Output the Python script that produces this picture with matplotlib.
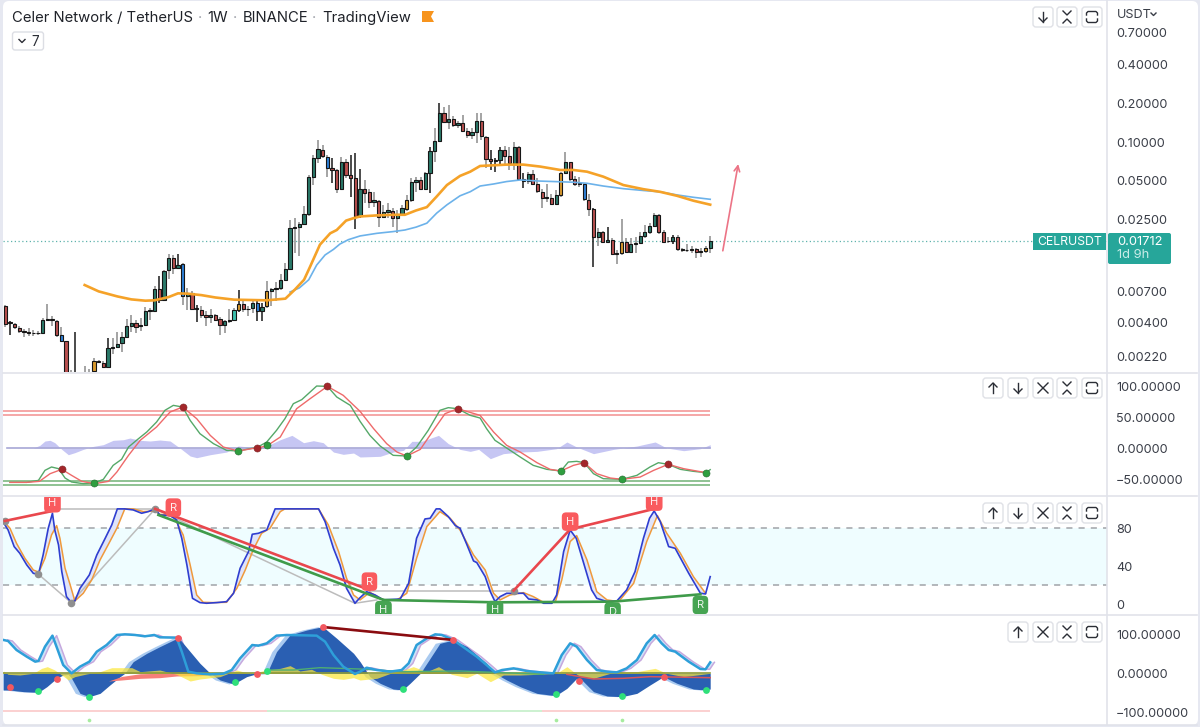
import numpy as np
import matplotlib
matplotlib.use('Agg')
import matplotlib.pyplot as plt
from matplotlib.patches import FancyBboxPatch, Rectangle, Polygon

plt.rcParams['font.family'] = ['Inter', 'DejaVu Sans']

W, H = 1200, 727

## weekly candles, one row per bar
opens = [.00544,.00405,.00393,.00368,.00345,.00341,.00337,.00333,.00337,.00419,.00429,.00415,.00321,.0029,.00125,.0013,.0015,.00145,.0016,.0017,
    .00202,.00195,.00182,.00257,.0026,.0028,.00312,.00381,.00402,.00376,.00386,.00494,.00494,.00726,.00605,.0102,.0126,.0106,.0115,.0065,
    .00681,.00515,.00506,.00463,.00448,.00458,.00428,.00388,.00412,.0042,.00506,.00561,.00512,.00518,.0057,.00491,.00537,.00712,.00725,.0074,
    .00857,.0104,.0218,.0221,.0233,.0279,.054,.0754,.0868,.0765,.0627,.0603,.0432,.0697,.0553,.0525,.0266,.0435,.0412,.0347,
    .0351,.0262,.029,.0295,.0258,.0279,.0303,.0357,.0493,.0509,.0435,.058,.0855,.102,.1683,.144,.1517,.1345,.1393,.1216,
    .1132,.1203,.1452,.11,.0735,.0712,.0727,.0863,.0784,.068,.0921,.0521,.0497,.0565,.0474,.0413,.0372,.0368,.0333,.0388,
    .0576,.0702,.0515,.0474,.0474,.0357,.0303,.0186,.0203,.0168,.0176,.0136,.014,.0168,.0141,.0163,.0167,.0189,.0201,.0225,
    .0274,.0201,.0172,.0172,.0184,.0148,.0146,.0147,.0149,.0142,.0145,.0151]
closes = [.00395,.004,.00372,.00347,.00341,.00337,.00333,.00337,.00419,.00429,.00424,.00323,.0029,.00125,.0013,.0015,.00145,.0016,.00163,.00203,
    .00199,.00182,.00257,.00262,.00273,.00311,.00381,.00402,.00372,.00386,.00494,.005,.00736,.00601,.01,.0126,.0107,.0113,.00645,.00681,
    .00512,.00522,.00463,.00448,.00458,.00424,.00388,.00412,.0042,.005,.00561,.00512,.00515,.0057,.00491,.0053,.00712,.00725,.0074,.00857,
    .0104,.0215,.0221,.0231,.0279,.0534,.0749,.0878,.0783,.0634,.0603,.0432,.0697,.0553,.0525,.0266,.0437,.0407,.0347,.0357,
    .0262,.0287,.0299,.0258,.0279,.0308,.0357,.049,.0509,.0435,.058,.0855,.102,.1683,.144,.1517,.1345,.1393,.1216,.1132,
    .1203,.1452,.1113,.0735,.0712,.0727,.0868,.0784,.0685,.0921,.0521,.0497,.0565,.0474,.0416,.0372,.0376,.0333,.0388,.0576,
    .0702,.0515,.0474,.048,.0361,.0303,.0186,.0203,.0168,.0175,.0136,.0138,.0168,.0142,.0162,.0167,.0189,.0203,.0225,.0274,
    .0201,.017,.0173,.0185,.0149,.0146,.0147,.0148,.0142,.0145,.0151,.01712]
highs = [.00553,.00412,.004,.00377,.00359,.00368,.00351,.00347,.00437,.00561,.0045,.00424,.00372,.00292,.00172,.00343,.0016,.00185,.00177,.00215,
    .00207,.00203,.00306,.00306,.00339,.00339,.0043,.00463,.00424,.00437,.00527,.00521,.00766,.00915,.0103,.0136,.0133,.0137,.0116,.00745,
    .00701,.00553,.00544,.00491,.00512,.00471,.00445,.00424,.00512,.00521,.00722,.00598,.00544,.00598,.00598,.0057,.00837,.00745,.00822,.0096,
    .0116,.025,.0258,.0243,.0321,.0557,.0794,.1036,.095,.0794,.0749,.0615,.0771,.0735,.0794,.0818,.0615,.0509,.0437,.0413,
    .0357,.0326,.0337,.0308,.0299,.0326,.0392,.0525,.0533,.0533,.059,.0921,.1276,.1988,.1873,.193,.1585,.1455,.1618,.1275,
    .1275,.1685,.1664,.1113,.0868,.0749,.0921,.0932,.0921,.1005,.0932,.0573,.059,.0608,.0525,.0437,.0474,.0397,.0427,.059,
    .0843,.0706,.0546,.0533,.048,.0397,.0308,.0215,.0207,.022,.018,.0147,.0253,.018,.018,.0186,.0203,.0229,.0236,.0282,
    .0279,.0209,.0184,.0192,.0192,.0153,.0164,.0158,.0151,.0151,.0158,.0188]
lows = [.00372,.0032,.00359,.00335,.00309,.00316,.00316,.00323,.00335,.00412,.00381,.00312,.00287,.00115,.00105,.001,.0012,.00135,.0014,.0015,
    .00195,.0018,.0018,.00232,.00257,.00238,.00306,.00339,.00335,.00345,.00381,.00424,.00491,.0057,.00598,.00873,.0096,.0104,.00553,.00506,
    .005,.00405,.00437,.00377,.004,.00412,.00325,.00335,.004,.00412,.00482,.00482,.00455,.00477,.00412,.00412,.00521,.00537,.00588,.00722,
    .00837,.0103,.0138,.0132,.0229,.0266,.0465,.0685,.0749,.0533,.0486,.0402,.0427,.0525,.0379,.0212,.0258,.0337,.0308,.0317,
    .022,.0258,.0258,.0222,.0199,.0266,.0291,.0347,.0413,.0427,.0427,.0402,.0706,.1005,.1393,.125,.1297,.1275,.1203,.1068,
    .1048,.0976,.1036,.0627,.0608,.059,.0653,.0665,.0608,.0608,.0509,.0445,.0474,.0465,.0402,.0308,.0347,.0326,.0326,.0379,
    .0573,.0497,.0458,.0453,.0352,.0269,.0109,.0156,.0167,.0167,.0134,.0115,.0134,.0138,.0138,.0138,.0165,.018,.0195,.022,
    .0195,.0167,.0165,.0164,.0145,.0141,.0141,.014,.0128,.013,.014,.014]
blue_bars = [12, 38, 54, 69, 124]
orange_bars = [19, 50, 56, 86, 119, 132, 150]
aqua_bars = [49]
dark_wicks = [1, 15, 22, 33, 37, 41, 50, 54, 55, 70, 74, 75, 76, 91, 93, 104, 105, 106, 111, 126, 129, 143]

last_price = 0.01712
price_ticks = [0.7, 0.4, 0.2, 0.1, 0.05, 0.025, 0.007, 0.004, 0.0022]

ma_orange_x = [17,20,24,27,30,32,35,37,39,42,45,49,53,56,60,62,64,65.3,67.4,69.6,71,73,74.6,76,79.6,83,85.6,88,90.3,92.4,94.6,97.4,99.6,101.7,104.6,107.4,111,114.6,118.9,121.7,124.6,128.1,132.4,136.7,140.3,143.9,147.4,151]
ma_orange = [.00785,.00701,.00641,.00608,.00594,.00598,.00634,.00677,.00673,.00656,.00629,.00605,.00601,.00598,.00616,.00722,.00862,.0109,.0161,.0197,.0209,.0247,.0258,.0266,.0271,.0274,.0274,.0296,.0314,.0379,.0465,.0547,.059,.0653,.0661,.0669,.0669,.0646,.0608,.0608,.059,.054,.0465,.0432,.0412,.0384,.0352,.0328]
ma_blue_x = [61,63,65,66.7,68.5,70.3,71.7,73.5,76,79.6,83,85.6,88,90.3,92.4,94.6,97.4,99.6,101.7,104.6,107.4,110.3,114.6,118.9,121.7,124.6,128.1,132.4,136.7,140.3,143.9,147.4,151]
ma_blue = [.00693,.00746,.00862,.0112,.0134,.0148,.0163,.0176,.0188,.0197,.0203,.0209,.022,.0236,.0282,.0327,.0384,.0413,.0457,.0474,.0495,.0509,.0499,.0493,.0489,.048,.0457,.0436,.0422,.0412,.039,.0374,.0361]
arrow_from = (153.7, 0.01444)
arrow_to = (157.0, 0.0676)

## oscillator pane
wt1_x = [1,4.6,7.1,8.5,9.9,11.4,12.8,14.2,16.7,19.1,21,23.1,24.9,26.4,28.1,30.3,32.4,34.2,36,38,39.6,41.7,44.6,47.4,49.9,52.4,54,56,58.1,59.9,61.7,63.5,64.9,66.7,69,71,73.9,76,78.1,80.3,83.1,86,88.1,90.6,93.1,94.9,96.9,99.6,101.7,103.1,104.9,107.4,110.3,113.1,116,119,120.6,122.4,124,126,128.1,132.1,135.3,138.1,139.9,142,144.6,147.4,150.1,151]
wt1 = [-55.4,-55.4,-52.2,-36,-30.6,-33.3,-48.4,-54.8,-57.5,-56.5,-50.5,-28,-18.3,1.6,12.4,25.8,41.9,60.8,68.8,66.1,44.6,23.1,7,-3.8,-4.8,-1.1,1.1,9.7,28.5,47.3,71.5,78,87.6,100,99.5,82.3,68.8,43,20.4,3.2,-11.8,-12.9,1.6,28.5,60.8,65.1,63.4,52.7,48.4,31.2,12.4,0,-14.5,-28,-34.4,-37.1,-22.6,-21.5,-23.7,-41.4,-49.5,-50.5,-44.1,-30.6,-23.7,-26.3,-34.4,-37.6,-39.8,-34.9]
wt2_x = [1,4.6,7.3,9.6,12.1,14.2,16.4,19.1,22.1,23.9,26.4,28.9,32.4,35.3,38,41,43.9,46.7,49.9,54,56,58.9,62.4,65.3,69,72.4,76,78.9,81.7,83.9,86,88.9,91.7,94.2,96.9,101.7,104.6,107.4,110.3,113.9,116.7,119,121.7,124,126.7,129.6,132.1,136,138.9,142,145.3,150.1]
wt2 = [-55.4,-55.4,-53.8,-41.4,-34.4,-44.1,-53.8,-57.5,-53.8,-38.7,-11.8,12.4,33.9,58.1,66.1,47.3,20.4,1.6,-4.8,.5,3.2,17.7,63.4,79.6,99.5,84.9,59.1,31.2,7,-6.5,-12.9,-2.2,28.5,55.4,63.4,52.7,25.8,4.3,-6.5,-23.7,-34.4,-37.1,-28,-23.7,-41.4,-48.4,-50.5,-46.8,-36,-26.3,-33.3,-39.8]
wt_hist_x = [.3,6,7.4,8.5,9.6,10.6,12.1,13.5,14.9,16.7,18.9,21,23.1,25.3,26.7,28.9,31,33.1,35.3,37.4,39.6,41,43.9,47.4,49.9,52.4,54,56,58.9,61.4,63.9,66,68.1,70.3,72.4,74.6,76,80.3,83.1,85.3,87.1,89.2,92.8,94.9,97.4,99.6,101.4,103.9,106.7,110.3,113.9,118.1,120.3,122.4,126,130.3,135.3,139.2,141.7,145.3,148.9,151]
wt_hist = [0,0,4.3,11.3,12.4,8.6,-2.2,-10.8,-7.5,-2.2,2.7,5.4,12.4,13.4,16.1,12.4,11.3,12.9,11.3,0,-12.9,-15.6,-10.8,-6.5,3.2,1.6,0,3.2,13.4,20.4,8.6,11.8,8.6,-6.5,-10.2,-8.1,-14.5,-13.4,-6.5,-3.8,10.8,10.8,20.4,7,-2.2,-5.4,-2.2,-17.2,-9.1,-6.5,-5.4,-1.1,9.7,1.6,-9.1,-2.2,3.2,9.7,0,-4.3,-1.1,5.4]
wt_levels_up = [60, 53]
wt_levels_down = [-53, -60]
wt_red_x = [12.1,38,54,69,96.9,124,142]
wt_red = [-34.4,66.1,.5,99.5,63.4,-23.7,-26.3]
wt_green_x = [19.1,49.9,56,86,119,132.1,150.1]
wt_green = [-56.5,-4.8,4.3,-12.9,-37.1,-50.5,-39.8]

## stochastic pane
k_x = [-.3,.6,1.9,3.1,4.6,6,7.1,8.1,9.2,10.1,10.6,11.4,12.1,13.1,14.1,14.9,16,18,19.6,21.4,22.8,24,25.6,27.4,29.2,30.6,32.1,33.1,35.3,36.7,37.8,38.9,40.1,41.7,43.1,45.3,47.4,48.9,50.3,52.1,52.9,54.2,56,57.8,59.9,63.1,67.1,68.5,70.3,71.7,73.1,74.9,76,77.4,79.2,81,84.6,86.4,88.1,89.9,91,92.3,93.1,94.9,96.4,97.4,98.9,100.3,101,102.8,103.9,104.9,106,107.4,108.9,111,112.1,113.9,115.3,117.1,118.1,119.6,121,122.3,123.9,125.6,126.7,128.9,131,133.1,134.9,136.7,138,139,140.3,142.1,143.5,146.4,148.9,150,151]
k_val = [85.3,78.2,60.7,53.7,41.4,32.6,31.6,51.9,80,95.8,78.2,62.5,34.4,8.1,2.1,3.5,16.8,30.9,51.9,69.5,83.5,100.4,100.4,99.3,95.8,97.5,100.4,94,93.3,88.8,69.5,41.4,6.3,1.8,1.1,1.8,2.8,11.6,37.9,55.4,73.7,74.7,78.2,100.4,100.4,100.4,100.4,87,58.9,41.4,16.8,1.1,7,13.3,9.8,4.6,5.6,22.1,69.5,89.8,90.5,100.4,100.4,92.3,82.8,80,62.5,45.6,43.9,29.1,13.3,2.8,8.1,11.6,11.6,11.6,5.6,4.6,1.1,1.1,9.8,55.4,78.2,69.5,43.2,15.1,6.3,2.8,3.5,15.1,34.4,69.5,90.5,98.2,87,60.7,58.9,32.6,11.6,10.9,29.1]
d_x = [-.3,1,2.4,4.2,6,7.2,8.5,9.9,11,11.7,12.8,13.9,14.9,16.7,18.5,20.3,22.4,23.9,25.6,27.4,29.6,32.1,33.1,36,38.1,39.6,41,42.4,44.6,47.4,49.6,51.4,53.1,54.9,56.7,58.9,59.9,67.1,69.2,71.4,73.1,74.6,76,78.1,81,83.9,86,88.1,90.3,93.1,95.3,97.4,100.3,102.8,104.6,106,108.1,111,113.1,115.3,117.8,119.2,121,122.4,124.6,126.7,128.9,131.4,134.6,137.4,139.7,141.7,144.6,147.4,150]
d_val = [87,80,64.2,48.4,36.1,33.7,48.4,73,82.8,69.5,37.9,20.4,3.5,11.6,25.6,46.7,66,80,100.4,100.4,97.5,98.2,94.7,93.3,73,41.4,9.8,2.1,1.8,2.1,16.8,36.1,57.2,74.7,80,97.5,100.4,100.4,83.5,55.4,27.4,9.8,4.6,12.6,4.6,4.6,11.6,48.4,81.8,97.5,90.5,78.2,51.9,36.1,11.6,4.6,9.8,12.3,8.1,2.1,2.1,25.6,66,72.3,46.7,13.3,4.6,2.8,22.1,66,93.3,74.7,53.7,29.1,11.6]
stoch_levels = [80, 20]
stoch_ticks = [80, 40, 0]
div_red_a_x, div_red_a = [-.1, 10.1], [87.7, 98.2]
div_red_b_x, div_red_b = [32.1, 78], [100.4, 15.1]
div_red_c_x, div_red_c = [108.9, 121, 139], [14.4, 78.9, 100.4]
div_green_a_x, div_green_a = [32.8, 81], [94, 4.6]
div_green_b_x, div_green_b = [81, 104.9, 130.1, 148.9], [4.6, 2.1, 2.8, 10.5]
grey_segments = [((7.1, 31.6), (14.1, 1.8)), ((14.1, 1.8), (32.1, 100.4)), ((10.1, 100.4), (32.1, 100.4)),
    ((32.1, 100.4), (74.9, 1.1)), ((74.9, 1.1), (79.6, 4.6)), ((78.1, 14.4), (108.9, 14.4))]
grey_dots_x = [-.1, 7.1, 14.1, 32.1, 108.9]
grey_dots = [87.7, 31.6, 1.8, 100.4, 14.4]
red_tags = [(10.1, 106.3, 'H'), (36, 101.8, 'R'), (78, 23.9, 'R'), (121, 87, 'H'), (139, 108, 'H')]
green_tags = [(81, -6, 'H'), (104.9, -6, 'H'), (130.1, -7.7, 'D'), (148.9, -.7, 'R')]

## momentum pane
mom_x = [-.4,1,3.9,7.1,8.9,11,12.4,13.5,14.2,16,18,20.3,22.4,24.6,25.6,27.4,30.3,33.1,37.1,39.6,41.7,43.9,46,48.9,51.7,53.9,56,58.1,61,64.6,68,71,74.6,76,78.1,80.3,83.1,85.1,86.7,88.9,90.3,93.1,96,98.9,101,103.1,104.9,107.4,110.3,113.9,117.9,120.3,122.4,123.5,126,128.9,132.1,135.3,138.1,141,143.9,147.4,149.9,151]
mom = [-42.7,-42.7,-47,-48.7,-34.2,-12.8,-4.3,-2.6,-12.8,-51.3,-59.8,-51.3,-29.9,-8.5,0,29.9,51.3,68.4,91.5,55.6,25.6,0,-17.1,-27.4,-8.5,-.9,-.9,55.6,98.3,111.1,119.7,89.7,51.3,29.9,-8.5,-25.6,-40.2,-42.7,-25.6,0,25.6,76.9,85.5,68.4,47,25.6,0,-17.1,-34.2,-51.3,-57.3,-38.5,-12.8,-17.1,-47,-58.1,-59.8,-51.3,-29.9,-8.5,-25.6,-40.2,-42.7,-40.2]
cyan_x = [-.4,.6,2.4,4.6,6.4,7.1,8.5,10.1,11.1,12.4,14.2,16,18,19.6,21.7,23.9,25.6,27.8,29.9,31.9,33.1,36.7,37.8,39.2,41,43.9,46.7,48.5,50.3,52.9,54.2,56,58.1,60.3,66.7,68.5,70.3,72.4,74.9,76,77.4,79.6,82.4,84.9,86.4,88.1,90.3,92.1,93.5,96,98.5,101,103.1,104.9,106.4,108.9,111.7,114.6,117.4,119.2,121,122.4,124.6,126.7,128.9,131,133.1,135.3,137.4,139.1,140.6,142.1,143.5,146.4,148.9,150,151]
cyan = [85.5,82.9,59.8,42.7,29.9,31.6,68.4,96.6,64.1,21.4,0,17.1,29.9,55.6,72.6,98.3,100,98.3,94.9,98.3,92.3,91.5,55.6,4.3,0,-2.6,-.9,8.5,38.5,72.6,70.9,76.9,96.6,98.3,96.6,81.2,47,17.1,-1.7,4.3,14.5,8.5,4.3,8.5,25.6,72.6,89.7,100,98.3,85.5,64.1,42.7,21.4,2.6,8.5,12.8,6,2.6,0,47,76.9,68.4,34.2,8.5,4.3,2.6,12.8,34.2,76.9,98.3,76.9,59.8,55.6,29.9,11.1,10.3,28.2]
yellow_x = [-.4,.6,3.1,6,7.8,9,10.6,12.1,13.5,14.9,17.4,20.3,22.8,24.9,27.1,28.9,33.1,36.7,39.6,41.7,46,49.6,52.4,56,58.9,61,63.1,65.6,67.8,70.3,72.4,74.6,76,79.6,83.1,85.3,87.4,90.3,92.8,95.6,98.9,101,103.9,106.7,110.3,113.9,118.1,120.3,123.1,126,130.3,135.3,139.2,141.7,145.3,151]
yellow = [6,-2.6,-4.3,0,12.8,17.1,8.5,-4.3,-17.1,-8.5,-1.7,4.3,14.5,14.5,14.5,4.3,8.5,-2.6,-19.7,-14.5,-8.5,8.5,-.9,8.5,12.8,19.7,6,10.3,-2.6,-12.8,-15.4,-11.1,-17.1,-12.8,2.6,8.5,17.1,4.3,17.1,-2.6,-11.1,0,-21.4,-4.3,-4.3,-2.6,0,17.1,-8.5,-12.8,2.6,4.3,12.8,0,-8.5,0]
red_band_x = [22.1,24.9,28.9,33.1,36.7,41.7,44.6]
red_band = [-19.7,-17.1,-12.8,-11.1,-6.8,-6,-2.6]
red_band_top = [-19.7,-8,-1,0,0,0,-2.6]
red_line_x = [120.3,126,132.4,138.1,151]
red_line = [-2.6,-14.5,-12.8,-8.5,-11.1]
green_line_x = [56,61.7,67.4,76,85.3,97.4,104.6,115.3]
green_line = [8.5,8.5,14.5,11.1,4.3,6,2.6,-2.6]
mom_red_x = [1,11,37.1,54,68,96,123,141]
mom_red = [-35.9,-14.5,91.5,-1.7,118.8,85.5,-18.8,-10.3]
mom_green_x = [7.1,18,49.1,56,85.1,117.9,132.1,150.1]
mom_green = [-45.3,-59.8,-23.1,6,-40.2,-53.8,-57.3,-41.9]
div_mom_x, div_mom = [68, 96], [118.8, 85.5]
signal_level = -96.6
signal_pink = [(-.5, 56), (115, 151)]
signal_green = [(56, 115)]
small_dots_x = [18, 117.9, 132.1]
small_dots_level = -120.5


def pane(y0, y1, ylim):
    ax = fig.add_axes([3 / W, 1 - y1 / H, 1104 / W, (y1 - y0) / H])
    ax.set_xlim(-0.493, 236.0)
    ax.set_ylim(*ylim)
    ax.set_xticks([])
    for s in ax.spines.values():
        s.set_visible(False)
    ax.yaxis.tick_right()
    ax.patch.set_alpha(0)
    ax.tick_params(axis='y', which='both', length=0, pad=6.6, labelsize=9.1, labelcolor='#3a3e48')
    return ax


def tag(ax, x, y, s, color):
    ax.text(x, y, s, color='white', fontsize=8, ha='center', va='center', zorder=8, clip_on=True, alpha=.9,
            bbox=dict(boxstyle='round,pad=0.38', fc=color, ec='none'))


fig = plt.figure(figsize=(W / 100, H / 100), dpi=100, facecolor='#e6e8f1')
fig.patches.append(FancyBboxPatch((3, 1), W - 5, H - 3, boxstyle='round,pad=0,rounding_size=6', fc='white', ec='none', zorder=-5,
                                  transform=matplotlib.transforms.Affine2D().scale(1 / W, -1 / H).translate(0, 1) + fig.transFigure))

## price pane
ax1 = pane(1, 372, (0.00167, 1.23))
ax1.set_yscale('log')
ax1.set_ylim(0.00167, 1.23)
ax1.set_yticks(price_ticks, ['%.5f' % t for t in price_ticks])
ax1.minorticks_off()

idx = np.arange(len(opens))
opens, closes, highs, lows = map(np.array, (opens, closes, highs, lows))
body_colors = ['#2b7a6a' if c >= o else '#b9504f' for o, c in zip(opens, closes)]
for i in blue_bars:
    body_colors[i] = '#2e80d8'
for i in orange_bars:
    body_colors[i] = '#d99a2e'
for i in aqua_bars:
    body_colors[i] = '#3cc0ae'
wick_colors = ['#1a1a1a' if i in dark_wicks else '#8c8c8c' for i in idx]
ax1.vlines(idx, lows, highs, colors=wick_colors, lw=1.1, zorder=2)
ax1.bar(idx, np.abs(closes - opens), bottom=np.minimum(opens, closes), width=0.7, color=body_colors,
        edgecolor='#161616', linewidth=0.8, zorder=3)
ax1.plot(ma_blue_x, ma_blue, color='#6cb2ea', lw=1.2, zorder=4)
ax1.plot(ma_orange_x, ma_orange, color='#f5a228', lw=1.9, zorder=5)
ax1.axhline(last_price, color='#5fb3ac', lw=0.9, ls=(0, (1, 2)), zorder=1)
ax1.annotate('', xy=arrow_to, xytext=arrow_from,
             arrowprops=dict(arrowstyle='->', color='#ec7486', lw=1.2, shrinkA=0, shrinkB=0, mutation_scale=10))

## oscillator
ax2 = pane(373, 496, (-77.4, 121))
ax2.set_yticks([100, 50, 0, -50], ['100.00000', '50.00000', '0.00000', '\u221250.00000'])
ax2.fill_between(wt_hist_x, wt_hist, 0, color='#bcbcf2', lw=0, alpha=.85, zorder=1)
ax2.plot(wt_hist_x, np.zeros(len(wt_hist_x)), color='#a7a7d6', lw=1.2, zorder=1)
ax2.hlines(wt_levels_up, -.5, 151, color='#f4a0a0', lw=1.3, zorder=2)
ax2.hlines(wt_levels_down, -.5, 151, color='#86bd8a', lw=1.3, zorder=2)
ax2.plot(wt1_x, wt1, color='#55a868', lw=1.0, zorder=3)
ax2.plot(wt2_x, wt2, color='#ee6a6a', lw=1.0, zorder=3)
ax2.scatter(wt_red_x, wt_red, s=26, color='#a3262a', edgecolor='#7d2a2a', lw=.4, zorder=4)
ax2.scatter(wt_green_x, wt_green, s=26, color='#2f9e3f', edgecolor='#2a6a35', lw=.4, zorder=4)

## stochastic
ax3 = pane(497, 614, (-10.2, 112.9))
ax3.set_yticks(stoch_ticks, ['%d' % t for t in stoch_ticks])
ax3.axhspan(stoch_levels[1], stoch_levels[0], color='#effdff', lw=0, zorder=0)
ax3.hlines(stoch_levels, -.5, 236, color='#a0a3a8', lw=1.1, ls=(0, (4, 4)), zorder=1)
ax3.add_patch(Polygon(np.c_[np.r_[k_x, d_x[::-1]], np.r_[k_val, d_val[::-1]]], fc='#dfe4fa', ec='none', zorder=2))
for a, b in grey_segments:
    ax3.plot([a[0], b[0]], [a[1], b[1]], color='#bcbcbc', lw=1.1, zorder=3)
ax3.plot(d_x, d_val, color='#ef9a3c', lw=1.1, zorder=4)
ax3.plot(k_x, k_val, color='#2f3ed0', lw=1.2, zorder=5)
ax3.scatter(grey_dots_x, grey_dots, s=20, color='#8f8f8f', zorder=6)
for xs, ys in ((div_green_a_x, div_green_a), (div_green_b_x, div_green_b)):
    ax3.plot(xs, ys, color='#3f9b4a', lw=1.9, zorder=6)
for xs, ys in ((div_red_a_x, div_red_a), (div_red_b_x, div_red_b), (div_red_c_x, div_red_c)):
    ax3.plot(xs, ys, color='#e9474d', lw=1.9, zorder=7)
for x, y, s in red_tags:
    tag(ax3, x, y, s, '#f95a5e')
for x, y, s in green_tags:
    tag(ax3, x, y, s, '#46a452')

## momentum
ax4 = pane(615, 725, (-132.4, 149.5))
ax4.set_yticks([100, 0, -100], ['100.00000', '0.00000', '\u2212100.00000'])
mom_x = np.array(mom_x)
cyan_x = np.array(cyan_x)
ax4.add_patch(Polygon(np.c_[np.r_[cyan_x, cyan_x[::-1] + .9], np.r_[cyan, cyan[::-1]]], fc='#cfe3f6', ec='none', zorder=0.5))
ax4.plot(cyan_x + .9, cyan, color='#c6a8de', lw=1.1, zorder=0.6)
ax4.fill_between(mom_x - 1, mom, 0, color='#a9caf0', lw=0, zorder=1)
ax4.fill_between(mom_x, mom, 0, color='#2a5fb2', lw=0, zorder=2)
ax4.fill_between(red_band_x, red_band, red_band_top, color='#f77f78', lw=0, zorder=3)
ax4.fill_between(yellow_x, yellow, 0, color='#fbe63a', lw=0, alpha=.72, zorder=4)
ax4.plot(yellow_x, np.zeros(len(yellow_x)), color='#8d9a38', lw=1.2, zorder=4)
ax4.plot(green_line_x, green_line, color='#4fae72', lw=1.0, zorder=5)
ax4.plot(red_line_x, red_line, color='#d8555b', lw=1.1, zorder=5)
ax4.plot(cyan_x, cyan, color='#2e9fd9', lw=1.8, zorder=6)
ax4.plot(div_mom_x, div_mom, color='#8a0c10', lw=1.9, zorder=7)
for a, b in signal_pink:
    ax4.hlines(signal_level, a, b, color='#fac4c4', lw=1.1, zorder=1)
for a, b in signal_green:
    ax4.hlines(signal_level, a, b, color='#bfeec4', lw=1.1, zorder=1)
ax4.scatter(small_dots_x, [small_dots_level] * len(small_dots_x), s=7, color='#a6ec9f', lw=0, zorder=2)
ax4.scatter(mom_red_x, mom_red, s=24, color='#f2585f', lw=0, zorder=8)
ax4.scatter(mom_green_x, mom_green, s=24, color='#2fe07a', lw=0, zorder=8)

## toolbar, separators, labels
ui = fig.add_axes([0, 0, 1, 1], zorder=20)
ui.set_xlim(0, W)
ui.set_ylim(H, 0)
ui.axis('off')
ui.patch.set_alpha(0)
line_c = '#e1e3ea'
for y in (372.5, 496, 614.5, 725):
    ui.plot([3, 1197], [y, y], color=line_c, lw=1.2)
ui.plot([1107, 1107], [1, 725], color=line_c, lw=1.2)

ui.text(12, 18, 'Celer Network / TetherUS', fontsize=10.7, color='#1f2229', va='center')
for x, s in ((207, '1W'), (243, 'BINANCE'), (322, 'TradingView')):
    ui.text(x, 18, s, fontsize=10.7, color='#1f2229', va='center')
for x in (200, 235, 314):
    ui.text(x, 18, '\u00b7', fontsize=10.7, color='#a0a3ab', va='center', ha='center')
ui.add_patch(Polygon([(422, 11), (434, 11), (431, 16.5), (434, 22), (422, 22)], fc='#f7941d', ec='none'))
ui.add_patch(FancyBboxPatch((12.5, 32), 31, 18, boxstyle='round,pad=0,rounding_size=2.5', fc='white', ec='#dcdee4', lw=1))
ui.plot([19, 22, 25], [39.5, 42.5, 39.5], color='#2b2e36', lw=1)
ui.text(31.5, 41.5, '7', fontsize=9.8, color='#2b2e36', va='center')
ui.text(1117, 14.5, 'USDT', fontsize=9.1, color='#3a3e48', va='center')
ui.plot([1151, 1153.5, 1156], [13, 15.5, 13], color='#3a3e48', lw=1)

ui.add_patch(Rectangle((1033, 233), 73, 17, fc='#26a69a', ec='none'))
ui.text(1069.5, 242, 'CELRUSDT', fontsize=8.8, color='white', ha='center', va='center')
ui.add_patch(FancyBboxPatch((1108, 233), 63, 31, boxstyle='round,pad=0,rounding_size=2', fc='#26a69a', ec='none'))
ui.text(1117, 242, '%.5f' % last_price, fontsize=9.3, color='white', va='center')
ui.text(1117, 255.5, '1d 9h', fontsize=9.3, color='#c9ece8', va='center')


def button(x, y, kind):
    ui.add_patch(FancyBboxPatch((x, y), 20, 20, boxstyle='round,pad=0,rounding_size=3', fc='white', ec='#dfe1e6', lw=1))
    cx, cy = x + 10, y + 10
    c = '#2b2e36'
    if kind == 'up':
        ui.plot([cx, cx], [cy - 5, cy + 5], color=c, lw=1)
        ui.plot([cx - 4, cx, cx + 4], [cy - 1, cy - 5, cy - 1], color=c, lw=1)
    elif kind == 'down':
        ui.plot([cx, cx], [cy - 5, cy + 5], color=c, lw=1)
        ui.plot([cx - 4, cx, cx + 4], [cy + 1, cy + 5, cy + 1], color=c, lw=1)
    elif kind == 'close':
        ui.plot([cx - 5, cx + 5], [cy - 5, cy + 5], color=c, lw=1)
        ui.plot([cx - 5, cx + 5], [cy + 5, cy - 5], color=c, lw=1)
    elif kind == 'fold':
        ui.plot([cx - 4, cx, cx + 4], [cy - 6, cy - 2, cy - 6], color=c, lw=1)
        ui.plot([cx - 4, cx, cx + 4], [cy + 6, cy + 2, cy + 6], color=c, lw=1)
    else:
        for d in (-1, 1):
            ui.plot([cx - 5.5, cx - 5.5, cx - 4, cx + 4, cx + 5.5, cx + 5.5],
                    [cy + d * 2, cy + d * 4, cy + d * 5.5, cy + d * 5.5, cy + d * 4, cy + d * 2], color=c, lw=1)


for x, kind in ((1033, 'down'), (1057, 'fold'), (1082, 'square')):
    button(x, 7, kind)
for y in (378, 503):
    for x, kind in ((983, 'up'), (1008, 'down'), (1033, 'close'), (1057, 'fold'), (1082, 'square')):
        button(x, y, kind)
for x, kind in ((1008, 'up'), (1033, 'close'), (1057, 'fold'), (1082, 'square')):
    button(x, 622, kind)

fig.savefig('out.png', dpi=100, facecolor=fig.get_facecolor())
